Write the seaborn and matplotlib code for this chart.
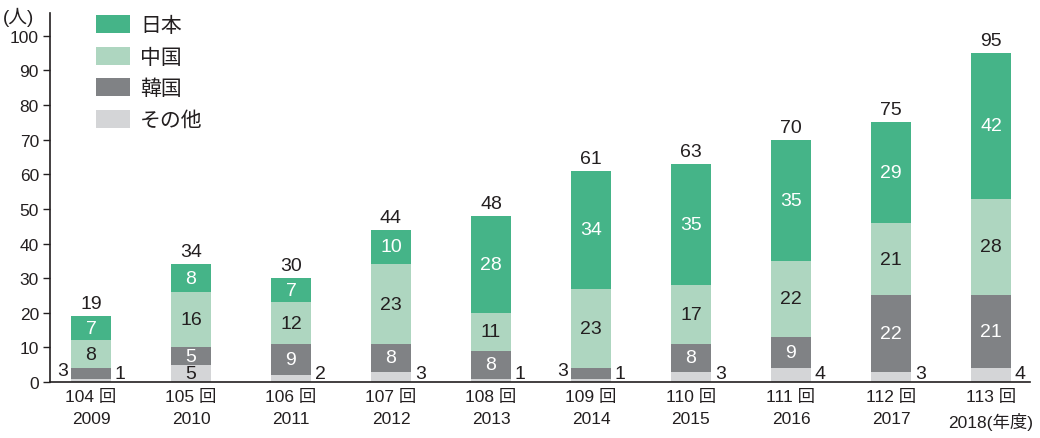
import matplotlib
matplotlib.use("Agg")
import matplotlib.pyplot as plt
import seaborn as sns
import pandas as pd
import numpy as np
from matplotlib.patches import Patch

sessions = ["104 回", "105 回", "106 回", "107 回", "108 回", "109 回", "110 回", "111 回", "112 回", "113 回"]
years = ["2009", "2010", "2011", "2012", "2013", "2014", "2015", "2016", "2017", "2018(年度)"]
japan = [7, 8, 7, 10, 28, 34, 35, 35, 29, 42]
china = [8, 16, 12, 23, 11, 23, 17, 22, 21, 28]
korea = [3, 5, 9, 8, 8, 3, 8, 9, 22, 21]
other = [1, 5, 2, 3, 1, 1, 3, 4, 3, 4]
series_names = ["日本", "中国", "韓国", "その他"]
colors = {"日本": "#45b488", "中国": "#aed6c0", "韓国": "#808285", "その他": "#d4d5d7"}

sns.set_theme(style="white")
plt.rcParams["font.family"] = ["Liberation Sans", "Noto Sans CJK JP", "DejaVu Sans"]

labels = [f"{s}\n{y}" for s, y in zip(sessions, years)]
df = pd.DataFrame({"label": labels, "日本": japan, "中国": china, "韓国": korea, "その他": other})
df["c_other"] = df["その他"]
df["c_korea"] = df["c_other"] + df["韓国"]
df["c_china"] = df["c_korea"] + df["中国"]
df["c_japan"] = df["c_china"] + df["日本"]

fig = plt.figure(figsize=(10.4, 4.39), dpi=100)
ax = fig.add_axes([50 / 1040, 1 - 383 / 439, 980 / 1040, (383 - 14) / 439])

for col, name in [("c_japan", "日本"), ("c_china", "中国"), ("c_korea", "韓国"), ("c_other", "その他")]:
    sns.barplot(data=df, x="label", y=col, color=colors[name], width=0.4, ax=ax,
                saturation=1, linewidth=0, order=labels)

x = np.arange(len(labels))
hw = 0.2
fs = 14
dark = "#231f20"
for i in range(len(labels)):
    o, k, c, j = other[i], korea[i], china[i], japan[i]
    if o >= 5:
        ax.text(x[i], o / 2, str(o), ha="center", va="center", fontsize=fs, color=dark)
    else:
        ax.text(x[i] + hw + 0.04, 2.5, str(o), ha="left", va="center", fontsize=fs, color=dark)
    if k >= 5:
        ax.text(x[i], o + k / 2, str(k), ha="center", va="center", fontsize=fs, color="white")
    else:
        ax.text(x[i] - hw - 0.03, 3.3, str(k), ha="right", va="center", fontsize=fs, color=dark)
    ax.text(x[i], o + k + c / 2, str(c), ha="center", va="center", fontsize=fs, color=dark)
    ax.text(x[i], o + k + c + j / 2, str(j), ha="center", va="center", fontsize=fs, color="white")
    tot = o + k + c + j
    ax.text(x[i], tot + 1.2, str(tot), ha="center", va="bottom", fontsize=fs, color=dark)

ax.set_xlim(-0.41, 9.39)
ax.set_ylim(0, 106.6)
ax.set_yticks(range(0, 101, 10))
ax.tick_params(axis="y", length=5, width=1, color=dark, labelsize=12.5, labelcolor=dark, pad=3, left=True)
ax.tick_params(axis="x", length=0, labelsize=12.5, labelcolor=dark, pad=5)
for t in ax.get_xticklabels():
    t.set_linespacing(1.55)
ax.set_xlabel("")
ax.set_ylabel("")
for s in ["top", "right"]:
    ax.spines[s].set_visible(False)
for s in ["left", "bottom"]:
    ax.spines[s].set_color(dark)
    ax.spines[s].set_linewidth(1.2)

fig.text(3 / 1040, 1 - 17 / 439, "(人)", fontsize=13.5, color=dark, ha="left", va="center")

handles = [Patch(facecolor=colors[n], edgecolor="none") for n in series_names]
ax.legend(handles, series_names, loc="upper left", bbox_to_anchor=(0.028, 1.045), frameon=False,
          fontsize=15, handlelength=1.6, handleheight=0.95, labelspacing=0.55, handletextpad=0.5,
          labelcolor=dark)

fig.savefig("out.png", dpi=100)
